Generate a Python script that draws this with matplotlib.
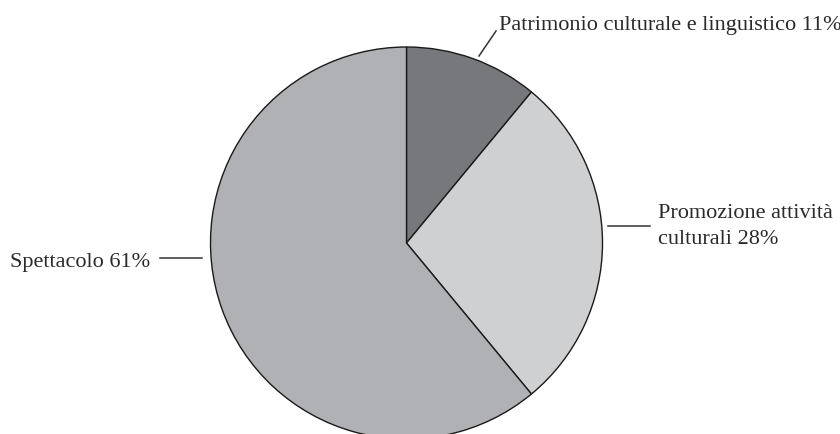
import matplotlib
matplotlib.use("Agg")
import matplotlib.pyplot as plt

categories = ["Patrimonio culturale e linguistico", "Promozione attività\nculturali", "Spettacolo"]
values = [11, 28, 61]
colors = ["#77787c", "#cfd0d2", "#b0b1b4"]

W, H = 840, 434
fig = plt.figure(figsize=(W / 100, H / 100), dpi=100)
ax = fig.add_axes([0, 0, 1, 1])

cx, cy, r = 406.5, H - 243, 196
ax.pie(values, colors=colors, startangle=90, counterclock=False,
       center=(cx, cy), radius=r, frame=True,
       wedgeprops=dict(edgecolor="#1a1a1a", linewidth=1.0))
ax.set_xlim(0, W)
ax.set_ylim(0, H)
ax.set_aspect("equal")
ax.axis("off")

font = dict(family="Liberation Serif", fontsize=16, color="#2a2a2a")

def py(y):
    return H - y

# Patrimonio
ax.plot([479, 496], [py(56), py(31)], color="#333333", lw=1.1)
ax.text(499, py(30), f"{categories[0]} {values[0]}%", ha="left", va="baseline", **font)
# Promozione (two lines, placed separately)
ax.plot([608, 650], [py(226), py(226)], color="#333333", lw=1.1)
promo_lines = f"{categories[1]} {values[1]}%".split("\n")
for i, line in enumerate(promo_lines):
    ax.text(658, py(218 + 26 * i), line, ha="left", va="baseline", **font)
# Spettacolo
ax.plot([160, 202], [py(258), py(258)], color="#333333", lw=1.1)
ax.text(150, py(267), f"{categories[2]} {values[2]}%", ha="right", va="baseline", **font)

fig.savefig("out.png", dpi=100)
